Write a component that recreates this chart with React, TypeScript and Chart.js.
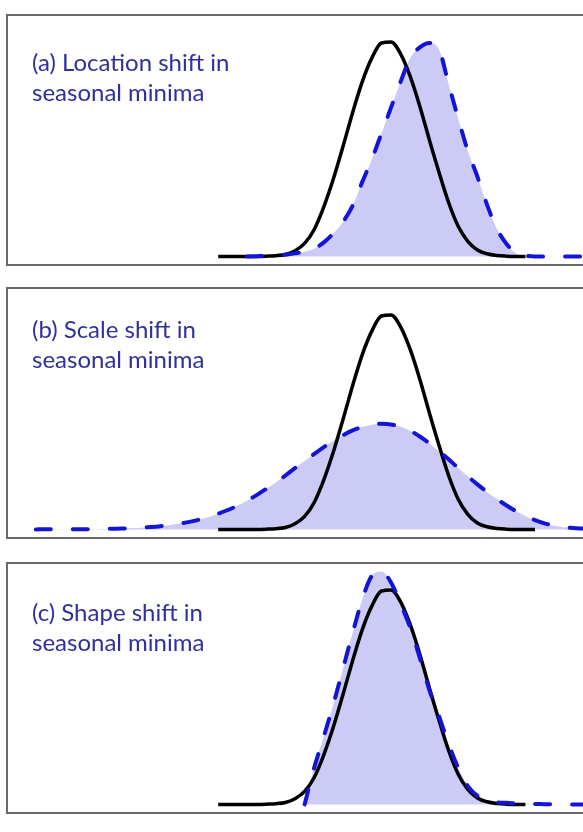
import React, { useEffect, useRef } from 'react';
import { Chart, registerables } from 'chart.js';

Chart.register(...registerables);

// x positions (abstract units across each panel)
const X = [
  0, 1, 2, 3, 4, 5, 6, 7, 8, 9, 10, 11, 12, 13, 14, 15, 16, 17, 18, 19, 20,
  21, 22, 23, 24, 25, 26, 27, 28, 29, 30, 31, 32, 33, 34, 35, 36, 37, 38, 39, 40,
  41, 42, 43, 44, 45, 46, 47, 48, 49, 50, 51, 52, 53, 54, 55, 56, 57, 58, 59, 60,
];

const N = null;

// (a) Location shift
const BLACK_A = [
  N, N, N, N, N, N, N, N, N, N, N, N, N, N, N, N, N, N, N, N, N, N,
  0, 0, 0, 0, 0, 0.001, 0.003, 0.009, 0.026, 0.06, 0.125, 0.23, 0.36, 0.51, 0.667, 0.81, 0.92, 0.99, 0.995,
  0.94, 0.835, 0.697, 0.54, 0.39, 0.25, 0.14, 0.07, 0.03, 0.012, 0.004, 0.001, 0, 0,
  N, N, N, N, N, N,
];
const BLUE_A = [
  N, N, N, N, N, N, N, N, N, N, N, N, N, N, N, N, N, N, N, N, N, N, N, N, N,
  0, 0.001, 0.002, 0.004, 0.008, 0.014, 0.022, 0.035, 0.065, 0.107, 0.16, 0.235, 0.345, 0.45, 0.57, 0.69,
  0.81, 0.92, 0.97, 0.99, 0.96, 0.8, 0.64, 0.49, 0.37, 0.24, 0.13, 0.06, 0.015, 0.003, 0, 0, 0, 0, 0, 0,
];

// (b) Scale shift
const BLACK_B = [
  N, N, N, N, N, N, N, N, N, N, N, N, N, N, N, N, N, N, N, N, N, N,
  0, 0, 0, 0, 0, 0.001, 0.003, 0.009, 0.026, 0.06, 0.125, 0.23, 0.36, 0.51, 0.667, 0.81, 0.92, 0.99, 0.995,
  0.94, 0.835, 0.697, 0.54, 0.39, 0.25, 0.14, 0.07, 0.03, 0.012, 0.004, 0.001, 0, 0, 0,
  N, N, N, N, N,
];
const BLUE_B = [
  N, N, N,
  0, 0.001, 0.001, 0.001, 0.001, 0.001, 0.001, 0.002, 0.003, 0.004, 0.006, 0.008, 0.011, 0.015, 0.02,
  0.027, 0.035, 0.045, 0.058, 0.073, 0.09, 0.11, 0.133, 0.159, 0.188, 0.218, 0.25, 0.284, 0.317, 0.35,
  0.382, 0.411, 0.437, 0.459, 0.475, 0.485, 0.49, 0.487, 0.476, 0.457, 0.431, 0.399, 0.363, 0.325,
  0.285, 0.246, 0.209, 0.174, 0.142, 0.112, 0.085, 0.062, 0.043, 0.028, 0.017, 0.01, 0.006, 0.004,
];

// (c) Shape shift
const BLACK_C = [
  N, N, N, N, N, N, N, N, N, N, N, N, N, N, N, N, N, N, N, N, N, N,
  0, 0, 0, 0, 0, 0.001, 0.003, 0.009, 0.026, 0.06, 0.125, 0.23, 0.36, 0.51, 0.667, 0.81, 0.92, 0.99, 0.995,
  0.94, 0.835, 0.697, 0.54, 0.39, 0.25, 0.14, 0.07, 0.03, 0.012, 0.004, 0.001, 0, 0,
  N, N, N, N, N, N,
];
const BLUE_C = [
  N, N, N, N, N, N, N, N, N, N, N, N, N, N, N, N, N, N, N, N, N, N, N, N, N, N, N, N, N, N, N,
  0, 0.17, 0.315, 0.465, 0.63, 0.795, 0.95, 1.06, 1.08, 1.03,
  0.93, 0.82, 0.68, 0.53, 0.41, 0.28, 0.17, 0.085, 0.04, 0.018, 0.01, 0.007, 0.005, 0.003, 0.002, 0.001,
  0, 0, 0, 0,
];

const LABELS_A = ['(a) Location shift in', 'seasonal minima'];
const LABELS_B = ['(b) Scale shift in', 'seasonal minima'];
const LABELS_C = ['(c) Shape shift in', 'seasonal minima'];

const W = 583;
const CANVAS_H = 270;

function toPoints(vals: (number | null)[]) {
  return X.map((x, i) => ({ x, y: vals[i] }));
}

const framePlugin = {
  id: 'frame',
  afterDraw(chart: any) {
    const { ctx, chartArea, width } = chart;
    ctx.save();
    ctx.strokeStyle = '#6a6a6a';
    ctx.lineWidth = 2;
    ctx.beginPath();
    ctx.moveTo(width + 2, chartArea.top);
    ctx.lineTo(chartArea.left, chartArea.top);
    ctx.lineTo(chartArea.left, chartArea.bottom);
    ctx.lineTo(width + 2, chartArea.bottom);
    ctx.stroke();
    ctx.restore();
  },
};

function Panel(props: { top: number; black: (number | null)[]; blue: (number | null)[]; labels: string[]; labelTop: number }) {
  const ref = useRef<HTMLCanvasElement>(null);
  useEffect(() => {
    if (!ref.current) return;
    const chart = new Chart(ref.current, {
      type: 'line',
      data: {
        datasets: [
          {
            data: toPoints(props.blue),
            borderColor: '#1414d8',
            borderWidth: 4,
            borderDash: [15, 22],
            borderCapStyle: 'round',
            backgroundColor: 'rgb(203,203,246)',
            fill: 'origin',
            pointRadius: 0,
            cubicInterpolationMode: 'monotone',
          } as any,
          {
            data: toPoints(props.black),
            borderColor: '#000000',
            borderWidth: 3.5,
            fill: false,
            pointRadius: 0,
            cubicInterpolationMode: 'monotone',
          } as any,
        ],
      },
      options: {
        responsive: false,
        animation: false,
        devicePixelRatio: 1,
        events: [],
        layout: { padding: { left: 7, right: 0, top: 10, bottom: 10 } },
        scales: {
          x: { type: 'linear', min: 0, max: 60, display: false },
          y: { type: 'linear', min: -0.04, max: 1.12, display: false },
        },
        plugins: {
          legend: { display: false },
          tooltip: { enabled: false },
          filler: { drawTime: 'beforeDatasetsDraw' },
        } as any,
      },
      plugins: [framePlugin],
    });
    return () => chart.destroy();
  }, []);
  return (
    <>
      <canvas
        ref={ref}
        width={W}
        height={CANVAS_H}
        style={{ position: 'absolute', left: 0, top: props.top, width: W, height: CANVAS_H }}
      />
      <div
        style={{
          position: 'absolute',
          left: 32,
          top: props.labelTop,
          fontFamily: 'Lato, "Open Sans", sans-serif',
          fontSize: 24,
          lineHeight: '30px',
          color: '#30309c',
          whiteSpace: 'nowrap',
        }}
      >
        {props.labels.map((t, i) => (
          <div key={i}>{t}</div>
        ))}
      </div>
    </>
  );
}

export default function App() {
  return (
    <div style={{ position: 'absolute', left: 0, top: 0, width: W, height: 832, background: '#ffffff', overflow: 'hidden' }}>
      <Panel top={5} black={BLACK_A} blue={BLUE_A} labels={LABELS_A} labelTop={47} />
      <Panel top={278} black={BLACK_B} blue={BLUE_B} labels={LABELS_B} labelTop={314} />
      <Panel top={553} black={BLACK_C} blue={BLUE_C} labels={LABELS_C} labelTop={597} />
    </div>
  );
}
